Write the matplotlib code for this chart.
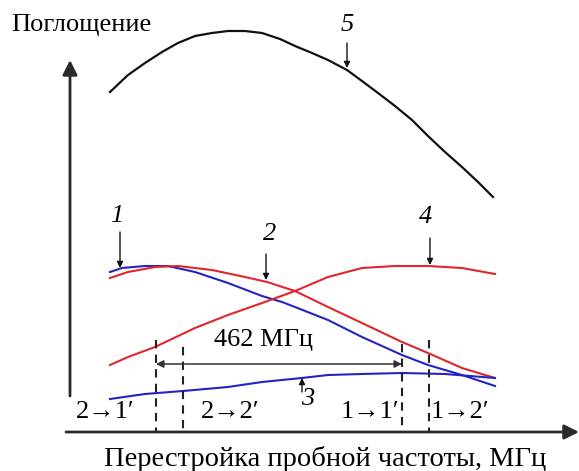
import matplotlib.pyplot as plt

plt.rcParams['font.family'] = ['Liberation Serif', 'DejaVu Serif']

# кривые (x, y в координатах рисунка, y вниз)
x5 = [110, 128, 145, 162, 178, 195, 212, 228, 245, 262, 280, 295, 312, 328, 347,
      362, 378, 395, 412, 428, 445, 462, 478, 493]
y5 = [92, 75, 63, 52, 43, 36, 33, 31, 31, 33, 39, 46, 53, 60, 70,
      81, 93, 106, 120, 136, 152, 167, 182, 197]

x1 = [110, 122, 145, 168, 195, 228, 262, 282, 295, 328, 362, 402, 428, 462, 495]
y1 = [272, 268, 266, 266, 272, 283, 296, 302, 307, 320, 337, 355, 365, 375, 386]

x2 = [110, 128, 155, 178, 212, 245, 267, 295, 328, 362, 402, 428, 462, 495]
y2 = [278, 272, 267, 266, 270, 277, 282, 291, 307, 323, 342, 353, 368, 378]

x4 = [110, 128, 155, 195, 228, 262, 295, 328, 362, 395, 428, 462, 495]
y4 = [365, 357, 347, 328, 315, 303, 291, 277, 268, 266, 266, 268, 274]

x3 = [110, 145, 183, 228, 262, 302, 328, 362, 402, 445, 495]
y3 = [399, 394, 391, 387, 382, 378, 375, 374, 373, 374, 378]

# пунктирные линии переходов
dash_x = [156, 183, 402, 429]
dash_top = [340, 347, 344, 340]
trans_labels = ['2→1′', '2→2′', '1→1′', '1→2′']
trans_x = [105, 230, 370, 460]

# метки кривых: (текст, x метки, y метки, x стрелки, y начала, y конца)
curve_marks = [
    ('1', 117, 216, 120, 232, 268),
    ('2', 270, 234, 266, 254, 280),
    ('4', 426, 217, 430, 238, 265),
    ('5', 347, 25, 347, 43, 68),
]

red = '#e0262b'
blue = '#2424c4'
axis_col = '#2a2a2a'
fs = 19

fig = plt.figure(figsize=(5.79, 4.71), dpi=100)
ax = fig.add_axes([0, 0, 1, 1])
ax.set_xlim(0, 579)
ax.set_ylim(471, 0)
ax.axis('off')

ax.plot(x5, y5, color='#111111', lw=1.6)
ax.plot(x1, y1, color=blue, lw=1.5)
ax.plot(x2, y2, color=red, lw=1.5)
ax.plot(x4, y4, color=red, lw=1.5)
ax.plot(x3, y3, color=blue, lw=1.5)

# оси
ax.annotate('', xy=(70, 60), xytext=(70, 396),
            arrowprops=dict(arrowstyle='-|>', lw=2, color=axis_col,
                            mutation_scale=22, shrinkA=0, shrinkB=0))
ax.annotate('', xy=(579, 432), xytext=(66, 432),
            arrowprops=dict(arrowstyle='-|>', lw=2, color=axis_col,
                            mutation_scale=22, shrinkA=0, shrinkB=0))

for xd, yt in zip(dash_x, dash_top):
    ax.plot([xd, xd], [yt, 432], color='#222222', lw=1.5, ls=(0, (4, 3)))

for t, xt in zip(trans_labels, trans_x):
    ax.text(xt, 412, t, fontsize=fs, ha='center', va='center')

# 462 МГц
ax.annotate('', xy=(156, 364), xytext=(402, 364),
            arrowprops=dict(arrowstyle='<|-|>', lw=1.1, color='#333333',
                            mutation_scale=11, shrinkA=0, shrinkB=0))
ax.text(263, 340, '462 МГц', fontsize=fs, ha='center', va='center')

for lab, xl, yl, xa, ya, yb in curve_marks:
    ax.text(xl, yl, lab, fontsize=fs, style='italic', ha='center', va='center')
    ax.annotate('', xy=(xa, yb), xytext=(xa, ya),
                arrowprops=dict(arrowstyle='-|>', lw=1, color='#111111',
                                mutation_scale=9, shrinkA=0, shrinkB=0))

# метка 3 (стрелка вверх)
ax.annotate('', xy=(302, 378), xytext=(302, 392),
            arrowprops=dict(arrowstyle='-|>', lw=1, color='#111111',
                            mutation_scale=9, shrinkA=0, shrinkB=0))
ax.text(308, 399, '3', fontsize=fs, style='italic', ha='center', va='center')

ax.text(11, 25, 'Поглощение', fontsize=fs, ha='left', va='center')
ax.text(325, 459, 'Перестройка пробной частоты, МГц', fontsize=20.5,
        ha='center', va='center')

fig.savefig('out.png', dpi=100)
